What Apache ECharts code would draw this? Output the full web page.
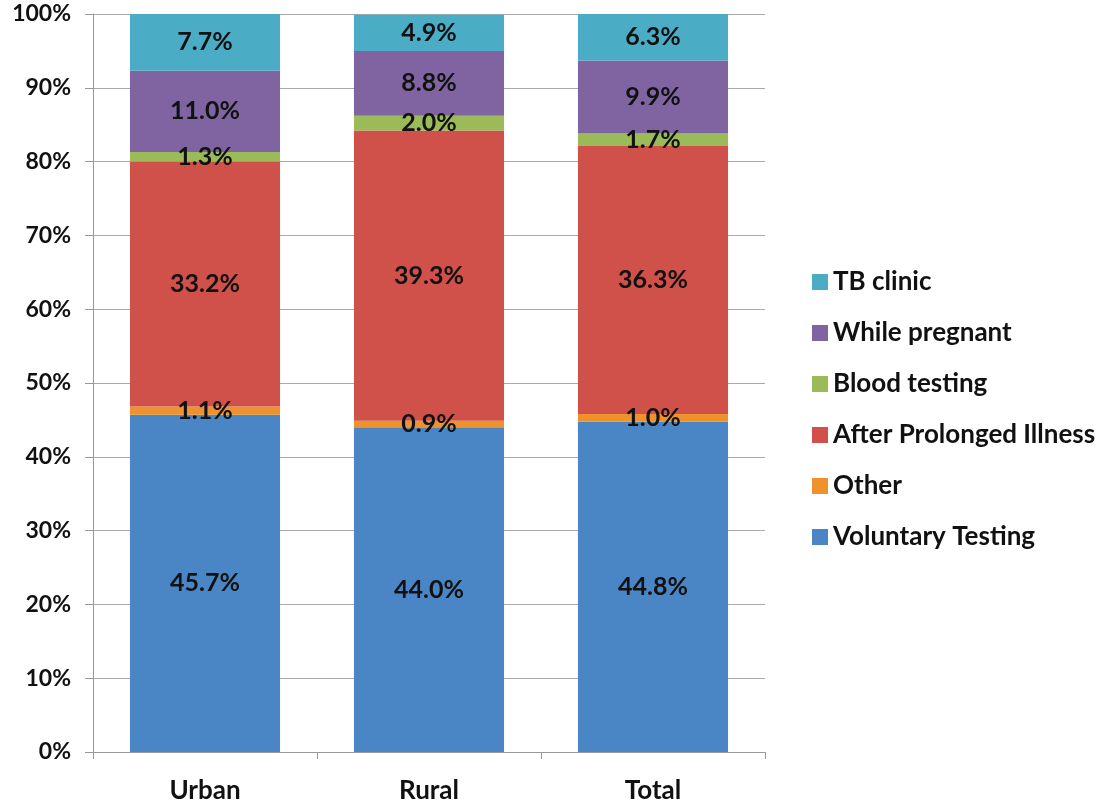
<!DOCTYPE html>
<html><head><meta charset="utf-8">
<script src="https://cdn.jsdelivr.net/npm/echarts@6/dist/echarts.min.js"></script>
<style>html,body{margin:0;padding:0;background:#fff}#c{width:1102px;height:804px}</style>
</head><body><div id="c"></div>
<script>
var categories = ['Urban', 'Rural', 'Total'];
var voluntaryTesting = [45.7, 44.0, 44.8];
var other = [1.1, 0.9, 1.0];
var afterProlongedIllness = [33.2, 39.3, 36.3];
var bloodTesting = [1.3, 2.0, 1.7];
var whilePregnant = [11.0, 8.8, 9.9];
var tbClinic = [7.7, 4.9, 6.3];
var seriesNames = ['Voluntary Testing', 'Other', 'After Prolonged Illness', 'Blood testing', 'While pregnant', 'TB clinic'];
var seriesData = [voluntaryTesting, other, afterProlongedIllness, bloodTesting, whilePregnant, tbClinic];
var colors = ['#4a86c5', '#f0922b', '#d0504a', '#9bbb59', '#8064a2', '#4bacc6'];

var font = 'Lato, "Open Sans", sans-serif';
var chart = echarts.init(document.getElementById('c'));
chart.setOption({
  animation: false,
  color: colors,
  grid: { left: 93, right: 337, top: 14, bottom: 52, containLabel: false },
  legend: {
    orient: 'vertical', left: 807, top: 264,
    data: seriesNames.slice().reverse(),
    icon: 'rect', itemWidth: 16, itemHeight: 16, itemGap: 25,
    textStyle: { fontFamily: font, fontWeight: 'bold', fontSize: 26, color: '#111', lineHeight: 26 }
  },
  xAxis: {
    type: 'category', data: categories,
    axisLine: { lineStyle: { color: '#999' } },
    axisTick: { show: true, length: 7, lineStyle: { color: '#999' } },
    axisLabel: { fontFamily: font, fontWeight: 'bold', fontSize: 26, color: '#111', margin: 26 }
  },
  yAxis: {
    type: 'value', min: 0, max: 100, interval: 10,
    axisLine: { show: true, lineStyle: { color: '#999' } },
    axisTick: { show: true, length: 8, lineStyle: { color: '#999' } },
    splitLine: { lineStyle: { color: '#aaa' } },
    axisLabel: { formatter: '{value}%', fontFamily: font, fontWeight: 'bold', fontSize: 23, color: '#111', margin: 22 }
  },
  series: seriesNames.map(function (n, i) {
    return {
      name: n, type: 'bar', stack: 'all', barWidth: '67%',
      data: seriesData[i],
      label: {
        show: true, position: 'inside',
        formatter: function (p) { return p.value.toFixed(1) + '%'; },
        fontFamily: font, fontWeight: 'bold', fontSize: 25, color: '#111'
      }
    };
  })
});
</script></body></html>
